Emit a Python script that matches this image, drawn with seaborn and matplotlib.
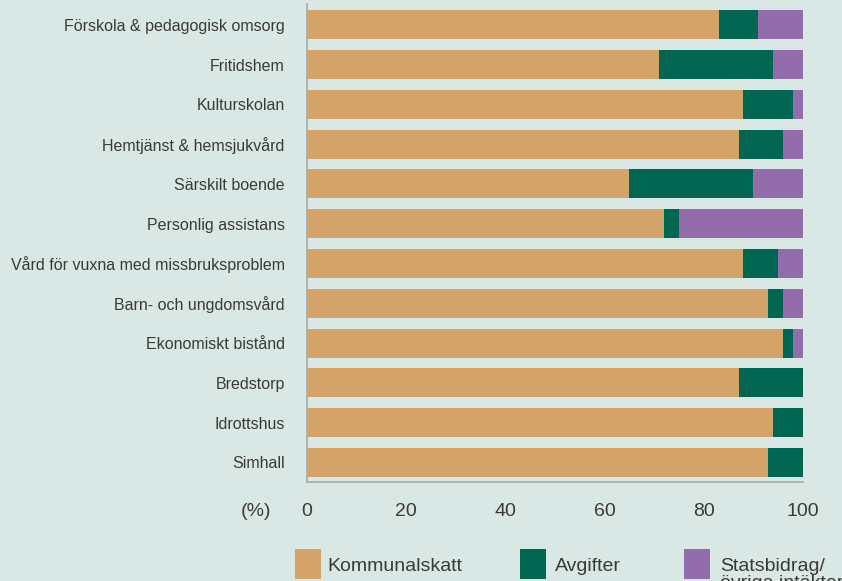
import pandas as pd
import matplotlib.pyplot as plt
import seaborn as sns
from matplotlib.patches import Rectangle

CATEGORIES = [
    "Förskola & pedagogisk omsorg",
    "Fritidshem",
    "Kulturskolan",
    "Hemtjänst & hemsjukvård",
    "Särskilt boende",
    "Personlig assistans",
    "Vård för vuxna med missbruksproblem",
    "Barn- och ungdomsvård",
    "Ekonomiskt bistånd",
    "Bredstorp",
    "Idrottshus",
    "Simhall",
]
KOMMUNALSKATT = [83, 71, 88, 87, 65, 72, 88, 93, 96, 87, 94, 93]
AVGIFTER = [8, 23, 10, 9, 25, 3, 7, 3, 2, 13, 6, 7]
STATSBIDRAG = [9, 6, 2, 4, 10, 25, 5, 4, 2, 0, 0, 0]

SERIES_LABELS = ["Kommunalskatt", "Avgifter", "Statsbidrag/\növriga intäkter"]
X_TICKS = [0, 20, 40, 60, 80, 100]

BG = "#d9e8e4"
ORANGE = "#d4a36a"
GREEN = "#006652"
PURPLE = "#936cab"
COLORS = [ORANGE, GREEN, PURPLE]
SPINE = "#a9b0ae"
TEXT = "#3a3a3a"

sns.set_style("white")
plt.rcParams["font.family"] = ["Liberation Sans", "DejaVu Sans"]

df = pd.DataFrame({
    "Kategori": CATEGORIES,
    "Kommunalskatt": KOMMUNALSKATT,
    "Avgifter": AVGIFTER,
    "Statsbidrag": STATSBIDRAG,
})
df["cum1"] = df["Kommunalskatt"]
df["cum2"] = df["cum1"] + df["Avgifter"]
df["cum3"] = df["cum2"] + df["Statsbidrag"]

fig = plt.figure(figsize=(8.42, 5.81), dpi=100, facecolor=BG)
ax = fig.add_axes([0.3646, 0.1704, 0.5891, 0.8227])
ax.set_facecolor(BG)

# stacked bars: draw cumulative totals from the back to the front
for col, color in zip(["cum3", "cum2", "cum1"], [PURPLE, GREEN, ORANGE]):
    sns.barplot(
        data=df, x=col, y="Kategori", color=color, orient="h",
        width=0.73, saturation=1, linewidth=0, ax=ax,
    )

ax.set_xlim(0, 100)
ax.set_ylim(11.49, -0.52)
ax.set_xticks(X_TICKS)
ax.set_xlabel("")
ax.set_ylabel("")

for side in ["top", "right"]:
    ax.spines[side].set_visible(False)
for side in ["left", "bottom"]:
    ax.spines[side].set_color(SPINE)
    ax.spines[side].set_linewidth(1.3)

ax.tick_params(axis="x", direction="in", length=3.6, width=1.2, color=SPINE,
               labelsize=14, labelcolor=TEXT, pad=15)
ax.tick_params(axis="y", length=0, labelsize=11.5, labelcolor=TEXT, pad=16)

fig.text(0.304, 0.1119, "(%)", fontsize=14, color=TEXT, ha="center", va="baseline")

# legend row
square_x = [0.3504, 0.6176, 0.8124]
text_x = [0.3884, 0.6591, 0.8551]
for sx, tx, color, label in zip(square_x, text_x, COLORS, SERIES_LABELS):
    fig.add_artist(Rectangle((sx, 0.0034), 0.0309, 0.0516, transform=fig.transFigure,
                             facecolor=color, edgecolor="none"))
    fig.text(tx, 0.040, label, fontsize=14, color=TEXT, ha="left", va="top",
             linespacing=1.05)

fig.savefig("out.png", dpi=100, facecolor=BG)
plt.close(fig)
